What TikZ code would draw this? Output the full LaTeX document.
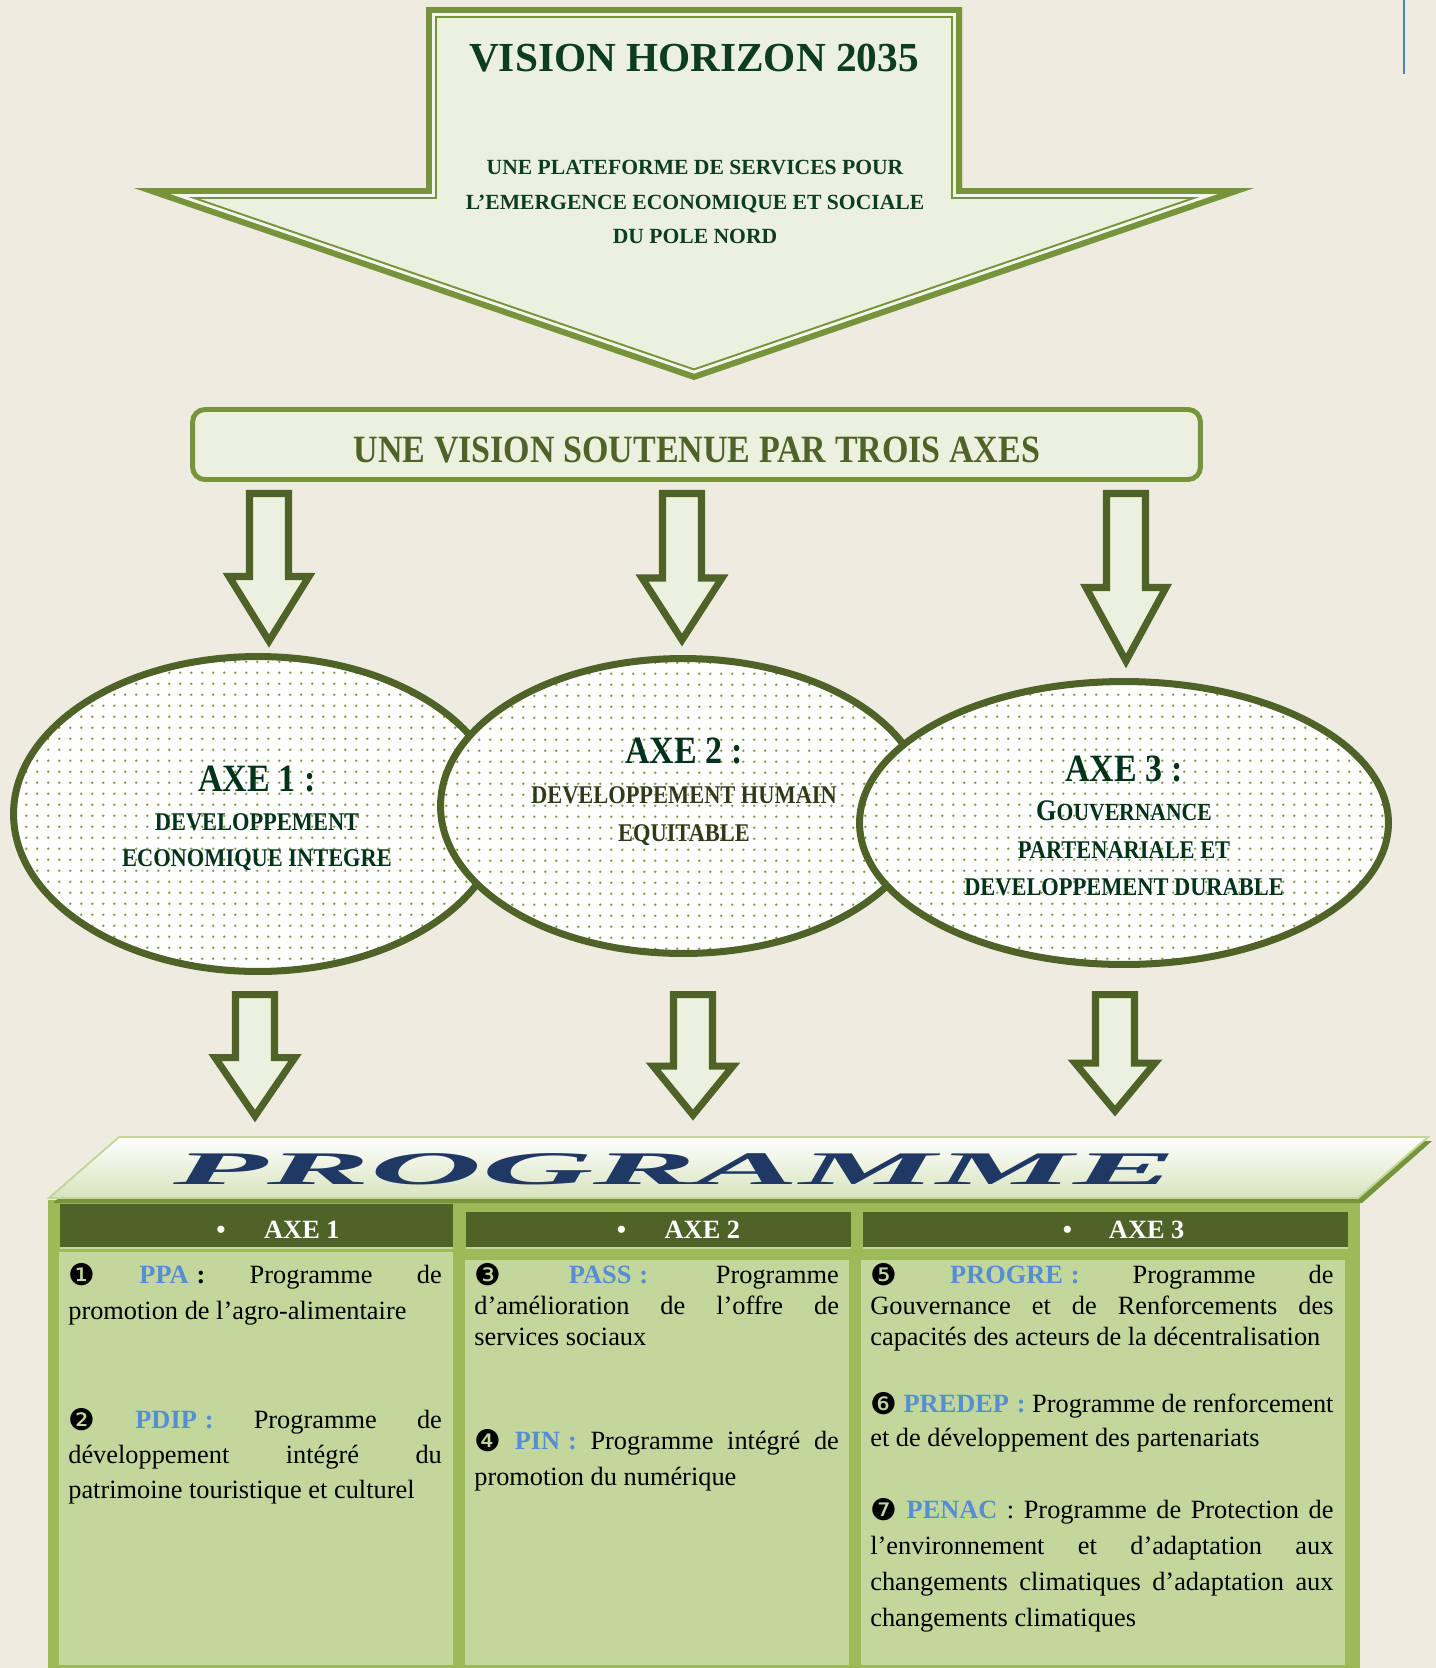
\documentclass[tikz,border=0pt]{standalone}
\usepackage{fontspec}
\setmainfont{Liberation Serif}
\newfontfamily\camb[FakeStretch=0.88]{Liberation Serif}
\newfontfamily\djv{DejaVu Sans}
\usetikzlibrary{shapes.geometric,patterns,patterns.meta}
\definecolor{bgc}{HTML}{EEECE1}
\definecolor{olA}{HTML}{9BBB59}
\definecolor{olB}{HTML}{77933C}
\definecolor{olC}{HTML}{4F6228}
\definecolor{olL}{HTML}{EBF1DE}
\definecolor{olM}{HTML}{D7E4BD}
\definecolor{olN}{HTML}{C3D69B}
\definecolor{dgreen}{HTML}{0B3D1E}
\definecolor{egreen}{HTML}{00331A}
\definecolor{lblue}{HTML}{558ED5}
\definecolor{navy}{HTML}{1F3864}
\definecolor{lineblue}{HTML}{4F81BD}
\pgfdeclarepattern{
  name=olivedots,
  type=uncolored,
  bottom left={\pgfpoint{0pt}{0pt}},
  top right={\pgfpoint{6.12pt}{6.07pt}},
  tile size={\pgfpoint{6.12pt}{6.07pt}},
  code={
    \pgfpathcircle{\pgfpoint{3.06pt}{3.03pt}}{0.8pt}
    \pgfusepath{fill}
  }
}
\newcommand\dn[1]{\raisebox{-1.6pt}{\djv\fontsize{17}{17}\selectfont #1}}
\newcommand\lab[1]{\textcolor{lblue}{\textbf{#1}}}
\newcommand\jl[1]{\makebox[\linewidth][s]{#1}\\}
\newcommand\barrow[4]{%
  \draw[barrowst] ({#1-19.5},#2) -- ({#1+19.5},#2) -- ({#1+19.5},#3) -- ({#1+40},#3)
    -- (#1,#4) -- ({#1-40},#3) -- ({#1-19.5},#3) -- cycle;}
\tikzset{
  barrowst/.style={draw=olC, fill=olL, line width=4pt, line join=miter, miter limit=10},
  ellnode/.style={ellipse, draw=olC, line width=4pt, inner sep=0pt,
    preaction={fill=white}, pattern=olivedots, pattern color=olA!85!black},
  etitle/.style={anchor=base, inner sep=0pt, text=egreen, font=\camb\bfseries\fontsize{22}{26}\selectfont},
  esub/.style={anchor=base, inner sep=0pt, text=egreen, font=\camb\bfseries\fontsize{14.5}{17}\selectfont},
  hdr/.style={anchor=base west, inner sep=0pt, text=white, font=\bfseries\fontsize{15}{18}\selectfont},
  para/.style={anchor=base west, inner sep=0pt, font=\fontsize{15}{20}\selectfont},
  subt/.style={anchor=base, inner sep=0pt, text=dgreen, font=\bfseries\fontsize{12.3}{14}\selectfont}
}
\begin{document}
\begin{tikzpicture}[x=0.02cm, y=-0.02cm]
\useasboundingbox (0,0) rectangle (1436,1668);
\fill[bgc] (0,0) rectangle (1436,1668);
% stray blue rule
\draw[lineblue, line width=1.2pt] (1404,0) -- (1404,74);
% big top arrow
\def\bigarrow{(426,7) -- (962,7) -- (962,188) -- (1254,188) -- (694,380) -- (134,188) -- (426,188) -- cycle}
\begin{scope}
  \clip \bigarrow;
  \fill[olL] \bigarrow;
  \draw[olB, line width=12.5pt, miter limit=30] \bigarrow;
  \draw[olL!60!white, line width=10.2pt, miter limit=30] \bigarrow;
  \draw[olB, line width=6.8pt, miter limit=30] \bigarrow;
\end{scope}
\node[anchor=base, inner sep=0pt, text=dgreen, font=\bfseries\fontsize{23.5}{28}\selectfont] (title) at (694,71) {VISION HORIZON 2035};
\node[subt] (sub1) at (695,174) {UNE PLATEFORME DE SERVICES POUR};
\node[subt] (sub2) at (695,209) {L’EMERGENCE ECONOMIQUE ET SOCIALE};
\node[subt] (sub3) at (695,243) {DU POLE NORD};
% vision box
\node[draw=olB, fill=olL, line width=2.8pt, rounded corners=7pt, minimum width=20.16cm, minimum height=1.4cm, inner sep=0pt] (vision) at (696.5,444.5) {};
\node[anchor=base, inner sep=0pt, text=olC, font=\camb\bfseries\fontsize{22}{26}\selectfont] (visiontext) at (697,462) {UNE VISION SOUTENUE PAR TROIS AXES};
% arrows to ellipses
\barrow{269}{493.5}{576.5}{641}
\barrow{682}{493.5}{578}{640}
\barrow{1126}{493.5}{587.5}{661}
% ellipses
\node[ellnode, minimum width=9.78cm, minimum height=6.3cm] (e1) at (258,814) {};
\node[ellnode, minimum width=9.7cm, minimum height=5.9cm] (e2) at (683,806) {};
\node[ellnode, minimum width=10.58cm, minimum height=5.66cm] (e3) at (1124,823) {};
\node[etitle] (e1t) at (257,791.5) {AXE 1 :};
\node[esub] (e1a) at (257,830.5) {DEVELOPPEMENT};
\node[esub] (e1b) at (257,866.5) {ECONOMIQUE INTEGRE};
\node[etitle] (e2t) at (684,763.5) {AXE 2 :};
\node[esub, text=olC!60!black] (e2a) at (684,803) {DEVELOPPEMENT HUMAIN};
\node[esub, text=olC!60!black] (e2b) at (684,841) {EQUITABLE};
\node[etitle] (e3t) at (1124,781.5) {AXE 3 :};
\node[esub] (e3a) at (1124,820) {{\fontsize{17}{17}\selectfont G}{\fontsize{14}{17}\selectfont OUVERNANCE}};
\node[esub] (e3b) at (1124,858) {PARTENARIALE ET};
\node[esub] (e3c) at (1124,895) {DEVELOPPEMENT DURABLE};
% arrows to programme
\barrow{255}{994.5}{1057.5}{1116}
\barrow{693}{994.5}{1066}{1115}
\barrow{1115}{994.5}{1063}{1111}
% table frame
\fill[olA] (48,1200) rectangle (1360,1668);
\fill[olC] (60,1204) rectangle (453,1247);
\fill[olC] (466,1212) rectangle (851,1247);
\fill[olC] (863,1212) rectangle (1348,1247);
\fill[olN] (60,1246.5) rectangle (453,1248.5);
\fill[olN] (466,1246.5) rectangle (851,1248.5);
\fill[olN] (863,1246.5) rectangle (1348,1248.5);
\fill[olN] (59,1252) rectangle (453,1665);
\fill[olN] (465,1260) rectangle (849,1665);
\fill[olN] (861,1260) rectangle (1345,1665);
% programme banner
\fill[olB] (123,1141) -- (1432,1141) -- (1362,1203) -- (53,1203) -- cycle;
\shade[top color=white, bottom color=olM, draw=olN, line width=1.1pt] (119,1137) -- (1428,1137) -- (1358,1198) -- (49,1198) -- cycle;
\node[anchor=base, inner sep=0pt, text=navy, font=\bfseries\itshape\fontsize{26.6}{30}\selectfont] (prog) at (675,1184) {\scalebox{3.3}[1]{PROGRAMME}};
% headers
\node[hdr] (h1) at (216,1238) {•\hspace{22pt}AXE 1};
\node[hdr] (h2) at (616.5,1238) {•\hspace{22pt}AXE 2};
\node[hdr] (h3) at (1062.5,1238) {•\hspace{21pt}AXE 3};
% column 1
\node[para] (p1) at (68,1283) {\parbox[t]{212.6pt}{\fontsize{15}{21}\selectfont
\jl{\dn{❶} \lab{PPA}\hspace{0.3em}\textbf{:} Programme de}promotion de l’agro-alimentaire}};
\node[para] (p2) at (68,1428) {\parbox[t]{212.6pt}{\fontsize{15}{20.1}\selectfont
\jl{\dn{❷} \lab{PDIP\hspace{0.3em}:} Programme de}\jl{développement intégré du}patrimoine touristique et culturel}};
% column 2
\node[para] (p3) at (474,1283) {\parbox[t]{207.5pt}{\fontsize{15}{17.9}\selectfont
\jl{\dn{❸} \lab{PASS\hspace{0.3em}:} Programme}\jl{d’amélioration de l’offre de}services sociaux}};
\node[para] (p4) at (474,1449) {\parbox[t]{207.5pt}{\fontsize{15}{21}\selectfont
\jl{\dn{❹} \lab{PIN\hspace{0.3em}:} Programme intégré de}promotion du numérique}};
% column 3
\node[para] (p5) at (870,1283) {\parbox[t]{263.6pt}{\fontsize{15}{17.9}\selectfont
\jl{\dn{❺} \lab{PROGRE\hspace{0.3em}:} Programme de}\jl{Gouvernance et de Renforcements des}capacités des acteurs de la décentralisation}};
\node[para] (p6) at (870,1412) {\parbox[t]{263.6pt}{\fontsize{15}{19.8}\selectfont
\jl{\dn{❻} \lab{PREDEP\hspace{0.3em}:} Programme de renforcement}et de développement des partenariats}};
\node[para] (p7) at (870,1518) {\parbox[t]{263.6pt}{\fontsize{15}{20.6}\selectfont
\jl{\dn{❼} \lab{PENAC} : Programme de Protection de}\jl{l’environnement et d’adaptation aux}\jl{changements climatiques d’adaptation aux}changements climatiques}};
\end{tikzpicture}
\end{document}
